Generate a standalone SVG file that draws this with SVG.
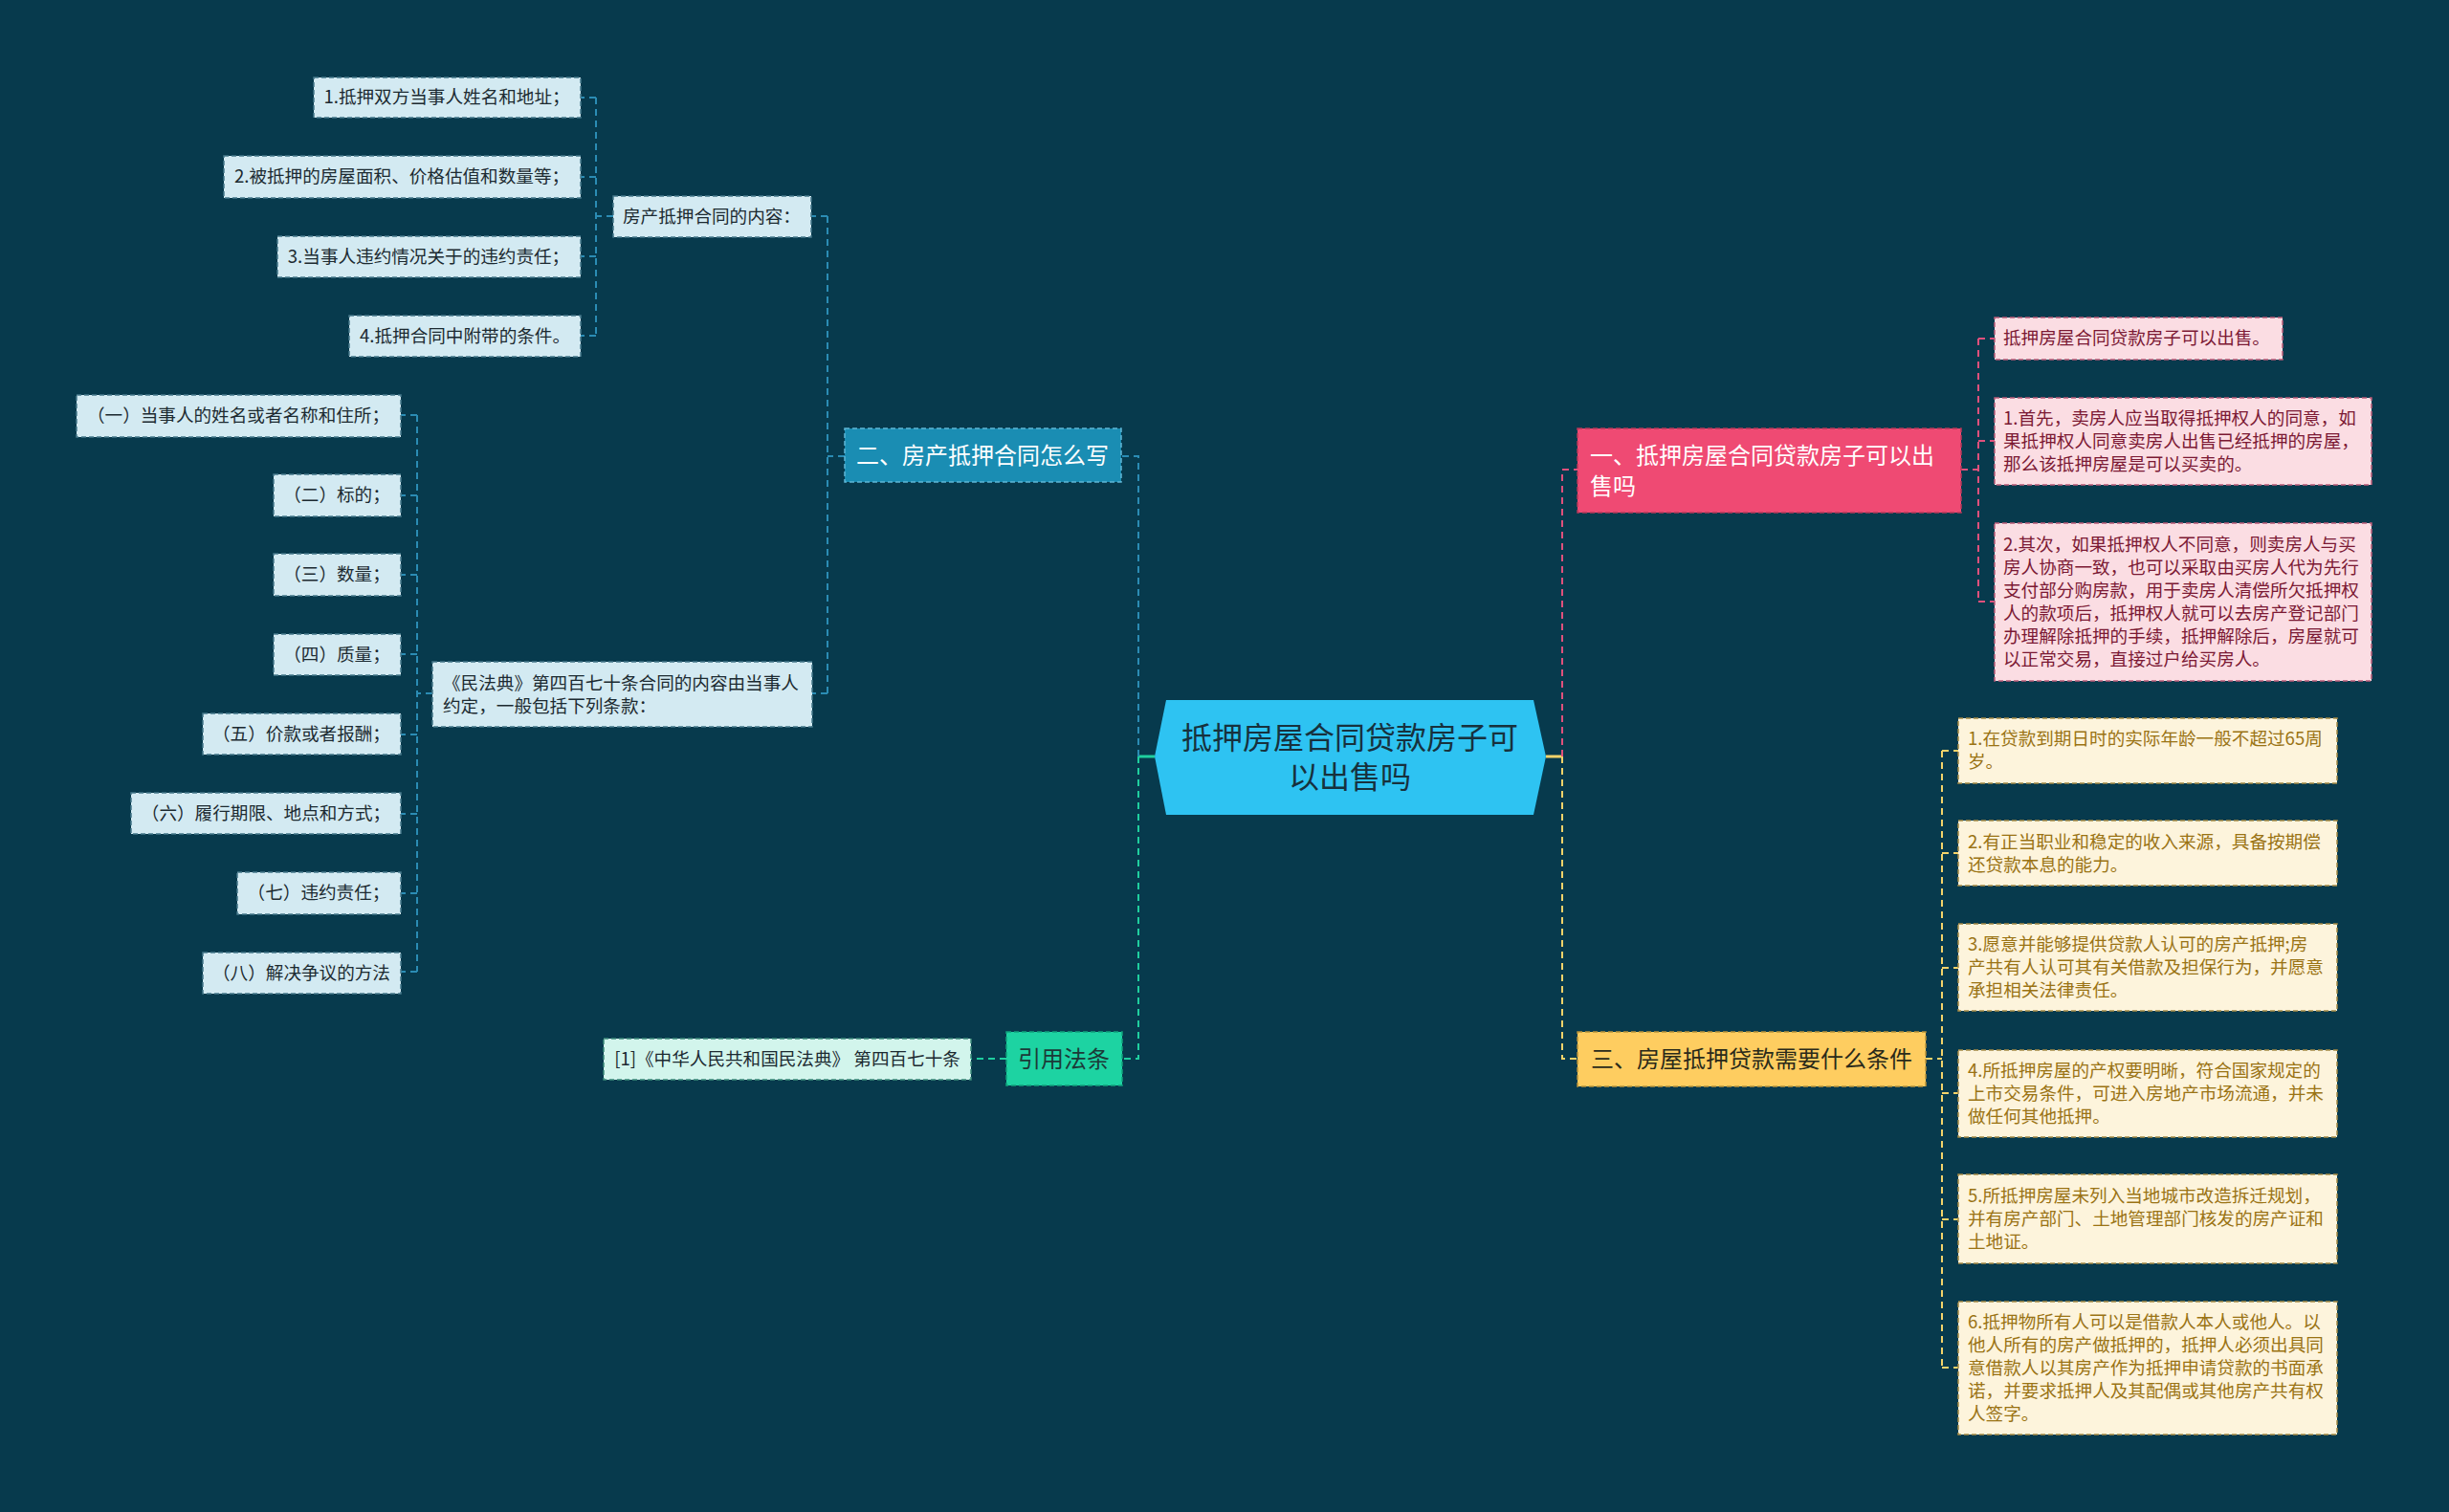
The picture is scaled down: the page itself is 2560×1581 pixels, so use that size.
<svg xmlns="http://www.w3.org/2000/svg" width="2560" height="1581" viewBox="0 0 2560 1581">
<style>
text{font-family:"Noto Sans CJK SC","Noto Sans",sans-serif;}
.bl{fill:#d3eaf2;stroke:#46788a;stroke-width:1.5;stroke-dasharray:5 3;}
.bt{font-size:18.6px;fill:#1c2a31;}
.pk{fill:#fbdde3;stroke:#b95b78;stroke-width:1.5;stroke-dasharray:5 3;}
.pt{font-size:18.6px;fill:#7b1934;}
.gd{fill:#fdf4dc;stroke:#a58a45;stroke-width:1.5;stroke-dasharray:5 3;}
.gt{font-size:18.6px;fill:#9a7314;}
.mt{font-size:18.6px;fill:#1c2a31;}
.l1{font-size:24px;}
.c{fill:none;stroke-width:2;stroke-dasharray:7 5;}
.cb{stroke:#2b8cb4;}
.cg{stroke:#1fcf9f;}
.cp{stroke:#e0507c;}
.cy{stroke:#f4d36a;}
</style>
<rect x="0" y="0" width="2560" height="1581" fill="#073a4d"/>
<g id="connectors">
<path d="M1207 791 H1190" stroke="#1fcf9f" stroke-width="3" fill="none"/>
<path d="M1616 791 H1633" stroke="#f4d36a" stroke-width="3" fill="none"/>
<path class="c cb" d="M1190 791 V477 H1172"/>
<path class="c cg" d="M1190 791 V1107 H1173"/>
<path class="c cb" d="M883 477 H865 M865 226 V725 M865 226 H848 M865 725 H849"/>
<path class="c cb" d="M641 226 H623 M623 102 V351 M623 102 H607 M623 185 H607 M623 268 H607 M623 351 H607"/>
<path class="c cb" d="M452 725 H436 M436 434 V1016 M436 434 H419 M436 518 H419 M436 601 H419 M436 684 H419 M436 768 H419 M436 851 H419 M436 934 H419 M436 1016 H419"/>
<path class="c cg" d="M1052 1107 H1015"/>
<path class="c cp" d="M1633 791 V491 H1649"/>
<path class="c cy" d="M1633 791 V1107 H1649"/>
<path class="c cp" d="M2050 491 H2068 M2068 354 V629 M2068 354 H2085 M2068 461 H2085 M2068 629 H2085"/>
<path class="c cy" d="M2013 1107 H2030 M2030 785 V1430 M2030 785 H2047 M2030 892 H2047 M2030 1012 H2047 M2030 1143 H2047 M2030 1275 H2047 M2030 1430 H2047"/>
</g>
<g id="center">
<polygon points="1219,732 1603,732 1616,791 1603,852 1219,852 1207,791" fill="#2ec3f2"/>
<text x="1411" y="783" font-size="32" fill="#17313d" text-anchor="middle">抵押房屋合同贷款房子可</text>
<text x="1411" y="824" font-size="32" fill="#17313d" text-anchor="middle">以出售吗</text>
</g>
<g id="n2">
<rect x="883" y="448" width="289" height="56" fill="#1a8db3" stroke="#5fb6d6" stroke-width="1.5" stroke-dasharray="5 3"/>
<text class="l1" x="1027" y="485" fill="#ffffff" text-anchor="middle">二、房产抵押合同怎么写</text>
</g>
<g id="n2a">
<rect class="bl" x="641" y="205" width="207" height="43"/>
<text class="bt" x="744" y="233" text-anchor="middle">房产抵押合同的内容：</text>
</g>
<g id="a1"><rect class="bl" x="328" y="81" width="279" height="42"/><text class="bt" x="467" y="108" text-anchor="middle">1.抵押双方当事人姓名和地址；</text></g>
<g id="a2"><rect class="bl" x="234" y="163" width="373" height="44"/><text class="bt" x="420" y="191" text-anchor="middle">2.被抵押的房屋面积、价格估值和数量等；</text></g>
<g id="a3"><rect class="bl" x="290" y="247" width="317" height="43"/><text class="bt" x="448" y="275" text-anchor="middle">3.当事人违约情况关于的违约责任；</text></g>
<g id="a4"><rect class="bl" x="365" y="330" width="242" height="43"/><text class="bt" x="486" y="358" text-anchor="middle">4.抵押合同中附带的条件。</text></g>
<g id="n2b">
<rect class="bl" x="452" y="692" width="397" height="68"/>
<text class="bt" x="463" y="721">《民法典》第四百七十条合同的内容由当事人</text>
<text class="bt" x="463" y="745">约定，一般包括下列条款：</text>
</g>
<g id="b1"><rect class="bl" x="80" y="413" width="339" height="44"/><text class="bt" x="249" y="441" text-anchor="middle">（一）当事人的姓名或者名称和住所；</text></g>
<g id="b2"><rect class="bl" x="286" y="496" width="133" height="44"/><text class="bt" x="352" y="524" text-anchor="middle">（二）标的；</text></g>
<g id="b3"><rect class="bl" x="286" y="579" width="133" height="44"/><text class="bt" x="352" y="607" text-anchor="middle">（三）数量；</text></g>
<g id="b4"><rect class="bl" x="286" y="663" width="133" height="43"/><text class="bt" x="352" y="691" text-anchor="middle">（四）质量；</text></g>
<g id="b5"><rect class="bl" x="212" y="746" width="207" height="43"/><text class="bt" x="315" y="774" text-anchor="middle">（五）价款或者报酬；</text></g>
<g id="b6"><rect class="bl" x="137" y="829" width="282" height="43"/><text class="bt" x="278" y="857" text-anchor="middle">（六）履行期限、地点和方式；</text></g>
<g id="b7"><rect class="bl" x="248" y="912" width="171" height="44"/><text class="bt" x="333" y="940" text-anchor="middle">（七）违约责任；</text></g>
<g id="b8"><rect class="bl" x="212" y="996" width="207" height="43"/><text class="bt" x="315" y="1024" text-anchor="middle">（八）解决争议的方法</text></g>
<g id="cite">
<rect x="1052" y="1079" width="121" height="56" fill="#1dd3a2" stroke="#11a27c" stroke-width="1.5" stroke-dasharray="5 3"/>
<text class="l1" x="1112" y="1116" fill="#1c3a38" text-anchor="middle">引用法条</text>
</g>
<g id="cite1">
<rect x="631" y="1086" width="384" height="43" fill="#d2f5ec" stroke="#3d8a7a" stroke-width="1.5" stroke-dasharray="5 3"/>
<text class="mt" x="823" y="1114" text-anchor="middle">[1]《中华人民共和国民法典》 第四百七十条</text>
</g>
<g id="n1">
<rect x="1649" y="448" width="401" height="88" fill="#ef4a73" stroke="#b8385a" stroke-width="1.5" stroke-dasharray="5 3"/>
<text class="l1" x="1662" y="485" fill="#ffffff">一、抵押房屋合同贷款房子可以出</text>
<text class="l1" x="1662" y="517" fill="#ffffff">售吗</text>
</g>
<g id="c1"><rect class="pk" x="2085" y="332" width="301" height="44"/><text class="pt" x="2094" y="360">抵押房屋合同贷款房子可以出售。</text></g>
<g id="c2"><rect class="pk" x="2085" y="416" width="394" height="91"/>
<text class="pt" x="2094" y="444">1.首先，卖房人应当取得抵押权人的同意，如</text>
<text class="pt" x="2094" y="468">果抵押权人同意卖房人出售已经抵押的房屋，</text>
<text class="pt" x="2094" y="492">那么该抵押房屋是可以买卖的。</text></g>
<g id="c3"><rect class="pk" x="2085" y="547" width="394" height="165"/>
<text class="pt" x="2094" y="576">2.其次，如果抵押权人不同意，则卖房人与买</text>
<text class="pt" x="2094" y="600">房人协商一致，也可以采取由买房人代为先行</text>
<text class="pt" x="2094" y="624">支付部分购房款，用于卖房人清偿所欠抵押权</text>
<text class="pt" x="2094" y="648">人的款项后，抵押权人就可以去房产登记部门</text>
<text class="pt" x="2094" y="672">办理解除抵押的手续，抵押解除后，房屋就可</text>
<text class="pt" x="2094" y="696">以正常交易，直接过户给买房人。</text></g>
<g id="n3">
<rect x="1649" y="1079" width="364" height="57" fill="#fecd60" stroke="#b8923a" stroke-width="1.5" stroke-dasharray="5 3"/>
<text class="l1" x="1831" y="1116" fill="#2a2a1a" text-anchor="middle">三、房屋抵押贷款需要什么条件</text>
</g>
<g id="d1"><rect class="gd" x="2047" y="751" width="396" height="68"/>
<text class="gt" x="2057" y="779">1.在贷款到期日时的实际年龄一般不超过65周</text>
<text class="gt" x="2057" y="803">岁。</text></g>
<g id="d2"><rect class="gd" x="2047" y="858" width="396" height="68"/>
<text class="gt" x="2057" y="887">2.有正当职业和稳定的收入来源，具备按期偿</text>
<text class="gt" x="2057" y="911">还贷款本息的能力。</text></g>
<g id="d3"><rect class="gd" x="2047" y="966" width="396" height="91"/>
<text class="gt" x="2057" y="994">3.愿意并能够提供贷款人认可的房产抵押;房</text>
<text class="gt" x="2057" y="1018">产共有人认可其有关借款及担保行为，并愿意</text>
<text class="gt" x="2057" y="1042">承担相关法律责任。</text></g>
<g id="d4"><rect class="gd" x="2047" y="1098" width="396" height="91"/>
<text class="gt" x="2057" y="1126">4.所抵押房屋的产权要明晰，符合国家规定的</text>
<text class="gt" x="2057" y="1150">上市交易条件，可进入房地产市场流通，并未</text>
<text class="gt" x="2057" y="1174">做任何其他抵押。</text></g>
<g id="d5"><rect class="gd" x="2047" y="1228" width="396" height="93"/>
<text class="gt" x="2057" y="1257">5.所抵押房屋未列入当地城市改造拆迁规划，</text>
<text class="gt" x="2057" y="1281">并有房产部门、土地管理部门核发的房产证和</text>
<text class="gt" x="2057" y="1305">土地证。</text></g>
<g id="d6"><rect class="gd" x="2047" y="1361" width="396" height="139"/>
<text class="gt" x="2057" y="1389">6.抵押物所有人可以是借款人本人或他人。以</text>
<text class="gt" x="2057" y="1413">他人所有的房产做抵押的，抵押人必须出具同</text>
<text class="gt" x="2057" y="1437">意借款人以其房产作为抵押申请贷款的书面承</text>
<text class="gt" x="2057" y="1461">诺，并要求抵押人及其配偶或其他房产共有权</text>
<text class="gt" x="2057" y="1485">人签字。</text></g>
</svg>
